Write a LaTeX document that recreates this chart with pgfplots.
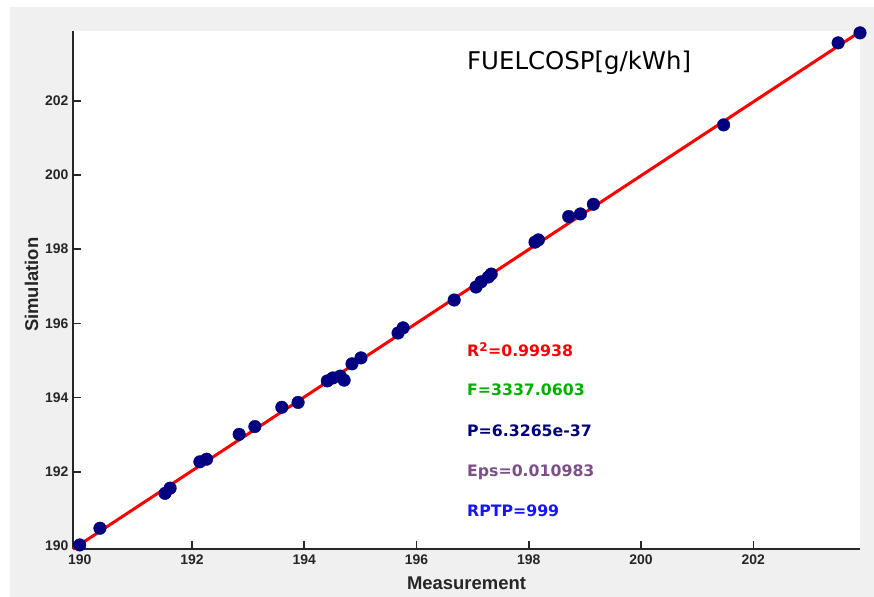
\documentclass[border=0pt]{standalone}
\usepackage{pgfplots}
\pgfplotsset{compat=1.18}
\usepackage{fontspec}
\setmainfont{Liberation Sans}
\newfontfamily\dejavu{DejaVu Sans}
\definecolor{bggray}{RGB}{240,240,240}
\definecolor{axgray}{RGB}{38,38,38}
\definecolor{navy}{RGB}{0,0,128}
\definecolor{fgreen}{RGB}{0,178,0}
\definecolor{fpurple}{RGB}{126,78,140}
\definecolor{fblue}{RGB}{20,20,255}
\begin{document}
\begin{tikzpicture}
\path[use as bounding box] (0,0) rectangle (874bp,597bp);
\fill[white] (0,0) rectangle (874bp,597bp);
\fill[bggray] (10bp,0) rectangle (874bp,590bp);
\begin{axis}[
  at={(73bp,48bp)}, anchor=south west,
  scale only axis, width=787bp, height=518bp,
  xmin=189.88, xmax=203.90, ymin=189.92, ymax=203.88,
  axis x line=bottom, axis y line=left,
  axis line style={-, line width=1.8bp, draw=axgray},
  axis background/.style={fill=white},
  xtick={190,192,...,202}, ytick={190,192,...,202},
  tick align=inside, major tick length=8bp,
  tick style={line width=1.6bp, draw=axgray},
  /pgf/number format/assume math mode=true,
  /pgf/number format/1000 sep={},
  ticklabel style={font=\bfseries\fontsize{14}{16}\selectfont, text=axgray},
  xticklabel style={yshift=-2bp},
  yticklabel style={xshift=-1bp},
  xlabel={Measurement}, ylabel={Simulation},
  xlabel style={font=\bfseries\fontsize{18.5}{20}\selectfont, text=axgray,
    at={(axis description cs:0.5,0)}, anchor=base, yshift=-40bp},
  ylabel style={font=\bfseries\fontsize{18.5}{20}\selectfont, text=axgray,
    at={(axis description cs:0,0.51)}, anchor=base, yshift=35bp},
  clip=false,
]
\addplot[only marks, mark=*, mark size=6.3bp, mark options={fill=navy, draw=navy}] coordinates {
(190.00,190.03) (190.36,190.48) (191.52,191.42) (191.61,191.56)
(192.14,192.27) (192.26,192.34) (192.84,193.01) (193.12,193.22)
(193.60,193.74) (193.89,193.87) (194.41,194.45) (194.51,194.53)
(194.64,194.58) (194.71,194.47) (194.85,194.91) (195.01,195.07)
(195.67,195.74) (195.76,195.88) (196.67,196.63) (197.06,196.98)
(197.15,197.12) (197.28,197.25) (197.33,197.33) (198.11,198.19)
(198.17,198.25) (198.71,198.88) (198.92,198.95) (199.15,199.21)
(201.47,201.35) (203.51,203.56) (203.90,203.83)
};
\addplot[red, line width=3bp] coordinates {(189.88,189.92) (203.90,203.86)};
\node[anchor=base west, font=\dejavu\fontsize{24.5}{26}\selectfont, text=black, inner sep=0pt] at (rel axis cs:0.5006,0.925) {FUELCOSP[g/kWh]};
\node[anchor=base west, font=\dejavu\bfseries\fontsize{15.8}{17}\selectfont, text=red, inner sep=0pt] at (rel axis cs:0.5006,0.3707) {R\textsuperscript{\fontsize{12}{12}\selectfont 2}=0.99938};
\node[anchor=base west, font=\dejavu\bfseries\fontsize{15.8}{17}\selectfont, text=fgreen, inner sep=0pt] at (rel axis cs:0.5006,0.2963) {F=3337.0603};
\node[anchor=base west, font=\dejavu\bfseries\fontsize{15.8}{17}\selectfont, text=navy, inner sep=0pt] at (rel axis cs:0.5006,0.2181) {P=6.3265e-37};
\node[anchor=base west, font=\dejavu\bfseries\fontsize{15.8}{17}\selectfont, text=fpurple, inner sep=0pt] at (rel axis cs:0.5006,0.1409) {Eps=0.010983};
\node[anchor=base west, font=\dejavu\bfseries\fontsize{15.8}{17}\selectfont, text=fblue, inner sep=0pt] at (rel axis cs:0.5006,0.0637) {RPTP=999};
\end{axis}
\end{tikzpicture}
\end{document}
